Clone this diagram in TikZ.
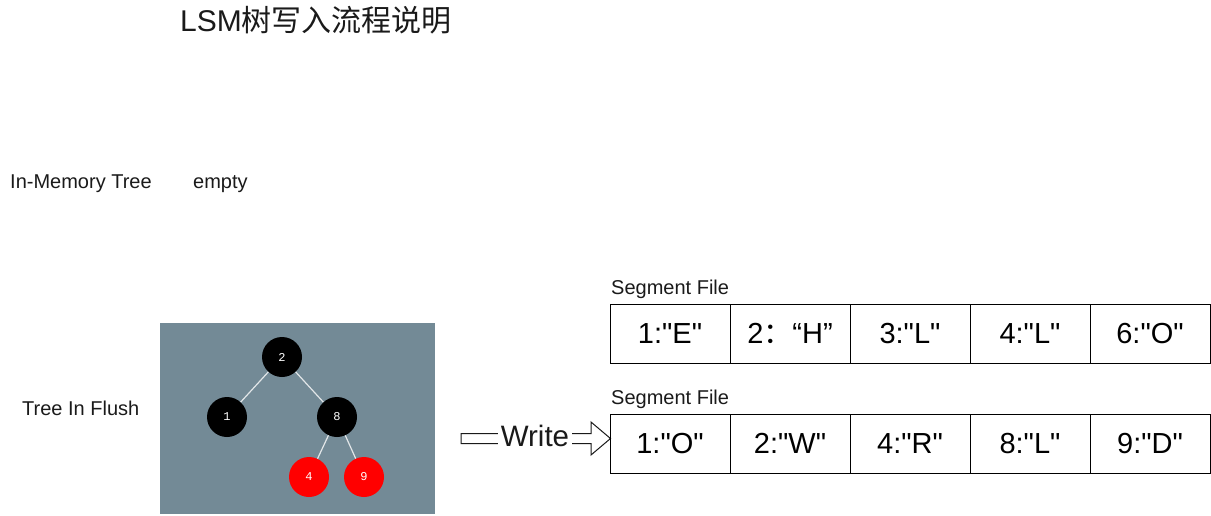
\documentclass[tikz,border=0pt]{standalone}
\usepackage{fontspec}
\setmainfont{Liberation Sans}
\newfontfamily\cjk{Noto Sans CJK SC}
\newfontfamily\digitfont{Liberation Mono}
\usetikzlibrary{arrows.meta,positioning}
\definecolor{ink}{HTML}{1A1A1A}
\definecolor{panel}{HTML}{738A96}
\definecolor{redkey}{HTML}{FF0000}
\definecolor{link}{HTML}{E2E6E8}
\newcommand\qd{\textquotedbl}
\tikzset{
  every node/.style={text=ink},
  headline/.style={font=\fontsize{30}{35}\selectfont,inner sep=0pt},
  caption/.style={font=\fontsize{20}{24}\selectfont,inner sep=0pt},
  keynode/.style={circle,fill=black,minimum size=40pt,inner sep=0pt,
    text=white,font=\digitfont\fontsize{12}{14}\selectfont},
  rednode/.style={keynode,fill=redkey},
  treelink/.style={draw=link,line width=1.2pt},
  hollow/.style={draw=ink,fill=white,line width=1pt,line join=miter},
  writelabel/.style={font=\fontsize{29.5}{34}\selectfont,fill=white,inner xsep=2.5pt,inner ysep=2pt},
  cell/.style={draw=black,line width=1pt,minimum width=120pt,minimum height=59pt,
    font=\fontsize{29}{34}\selectfont,text=black,text height=20.8pt,text depth=0pt}
}
\begin{document}
\begin{tikzpicture}[x=1pt,y=-1pt]
  \useasboundingbox (0,0) rectangle (1211,515);
  % Title and the (empty) in-memory tree.
  \node[headline,anchor=base west] (title) at (180,31) {LSM{\cjk 树写入流程说明}};
  \node[caption,anchor=base west] (memlabel) at (10,188.5) {In-Memory Tree};
  \node[caption,anchor=base west] (memstate) at (193,188.5) {empty};

  % The tree being flushed.
  \node[caption,anchor=base west] (flushlabel) at (22,415.5) {Tree In Flush};
  \fill[panel] (160,323) rectangle (435,513.5);
  \node[keynode] (k2) at (282,357) {2};
  \node[keynode] (k1) at (227,417) {1};
  \node[keynode] (k8) at (337,417) {8};
  \node[rednode] (k4) at (309,477) {4};
  \node[rednode] (k9) at (364,477) {9};
  \foreach \a/\b in {k2/k1,k2/k8,k8/k4,k8/k9}
    \draw[treelink] (\a) -- (\b);

  % Hollow block arrow with its label.
  \draw[hollow] (461,433.5) -- (591,433.5) -- (591,422) -- (610.5,438.5)
    -- (591,455) -- (591,443.5) -- (461,443.5) -- cycle;
  \node[writelabel,anchor=base] (write) at (535,446.5) {Write};

  % Two segment files on disk.
  \node[caption,anchor=base west] (segtitleA) at (611,294.5) {Segment File};
  \foreach \i/\txt in {1/{1:\qd E\qd},2/{2{\cjk ：}“H”},3/{3:\qd L\qd},4/{4:\qd L\qd},5/{6:\qd O\qd}}
    \node[cell] (segA\i) at ({550+120*\i},333.5) {\txt};
  \node[caption,anchor=base west] (segtitleB) at (611,404.5) {Segment File};
  \foreach \i/\txt in {1/{1:\qd O\qd},2/{2:\qd W\qd},3/{4:\qd R\qd},4/{8:\qd L\qd},5/{9:\qd D\qd}}
    \node[cell] (segB\i) at ({550+120*\i},443.5) {\txt};
\end{tikzpicture}
\end{document}
